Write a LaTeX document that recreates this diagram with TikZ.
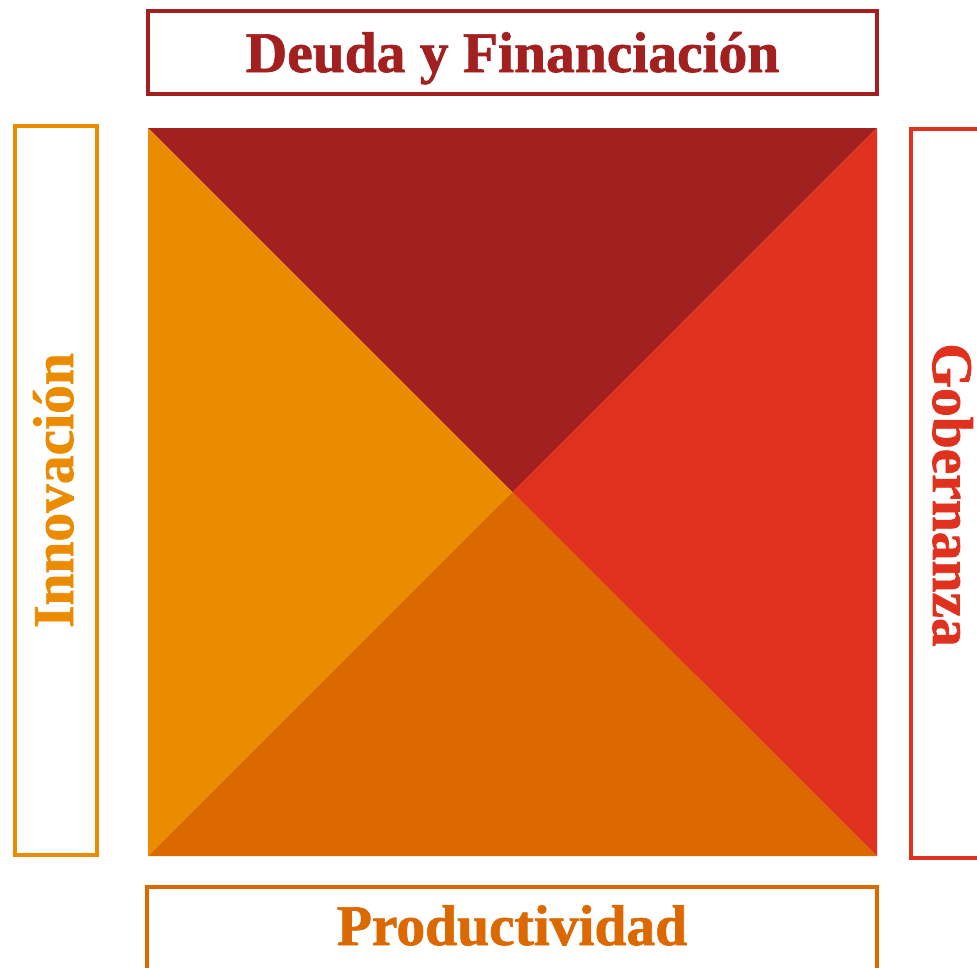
\documentclass[tikz,border=0pt]{standalone}
\usepackage{fontspec}
\setmainfont{Liberation Serif}
\newfontfamily\lblfont[FakeBold=1.2]{Liberation Serif Bold}
\definecolor{pwcdark}{HTML}{A32020}
\definecolor{pwcorange}{HTML}{EB8C00}
\definecolor{pwctang}{HTML}{DC6900}
\definecolor{pwcred}{HTML}{E0301E}
\tikzset{
  framebox/.style={draw,line width=4pt,fill=white,inner sep=0pt},
  lbl/.style={font=\lblfont\fontsize{57.5}{60}\selectfont,inner sep=0pt},
}
\begin{document}
\begin{tikzpicture}[x=1pt,y=-1pt]
\useasboundingbox (0,0) rectangle (977,967);
% square corners
\coordinate (tl) at (148,128);
\coordinate (tr) at (877,128);
\coordinate (bl) at (148,856);
\coordinate (br) at (877,856);
\coordinate (c) at (512.5,492);
\fill[pwcdark] (tl) -- (tr) -- (c) -- cycle;
\fill[pwcorange] (tl) -- (bl) -- (c) -- cycle;
\fill[pwctang] (bl) -- (br) -- (c) -- cycle;
\fill[pwcred] (tr) -- (br) -- (c) -- cycle;
% frames
\node[framebox,draw=pwcdark,minimum width=729pt,minimum height=83pt] (topbox) at (512.5,52.5) {};
\node[framebox,draw=pwcorange,minimum width=82pt,minimum height=729pt] (leftbox) at (56,490.5) {};
\node[framebox,draw=pwcred,minimum width=84pt,minimum height=729pt] (rightbox) at (953,493.5) {};
\node[framebox,draw=pwctang,minimum width=730pt,minimum height=87pt] (botbox) at (512,930.5) {};
% labels
\node[lbl,text=pwcdark,anchor=base] (tlab) at (512.5,72) {Deuda y Financiación};
\node[lbl,text=pwctang,anchor=base] (blab) at (512,945) {Productividad};
\node[lbl,text=pwcorange,anchor=base,rotate=90] (llab) at (73,490.5) {Innovación};
\node[lbl,text=pwcred,anchor=base,rotate=-90] (rlab) at (933,495) {Gobernanza};
\end{tikzpicture}
\end{document}
